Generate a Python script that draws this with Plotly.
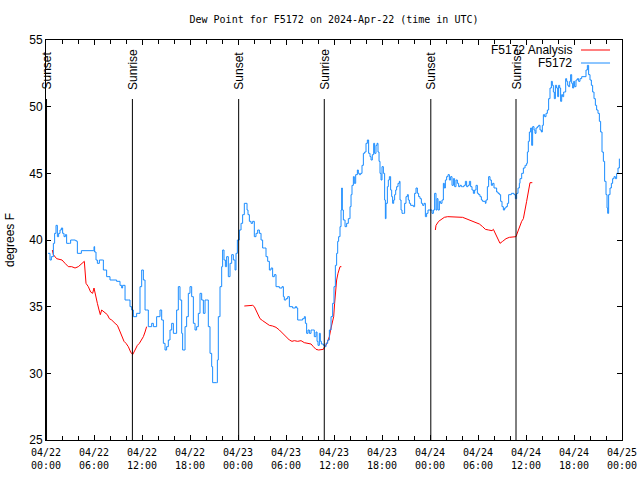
import pandas as pd
import plotly.graph_objects as go

BASE = pd.Timestamp("2024-04-22 00:00")

# ---- observed dew point (F5172), hours since 04/22 00:00 UTC, degrees F ----
obs_hours = [
    0.25, 0.5, 0.67, 0.92, 1.08, 1.25, 1.42, 1.58, 1.75, 1.92, 2.08, 2.25, 2.42, 2.58, 2.92, 3.08,
    3.67, 3.83, 3.92, 4.25, 4.42, 5.92, 6.0, 6.08, 6.25, 6.42, 6.67, 7.04, 7.17, 7.58, 8.0, 8.83,
    9.25, 9.46, 9.58, 9.88, 10.29, 10.5, 10.71, 10.92, 11.33, 11.75, 11.96, 12.17, 12.38, 12.58,
    12.79, 13.21, 13.42, 13.83, 14.25, 14.46, 14.67, 14.88, 15.08, 15.29, 15.5, 15.71, 15.92, 16.13,
    16.33, 16.54, 16.75, 16.96, 17.08, 17.38, 17.58, 17.79, 18.0, 18.21, 18.42, 18.63, 18.83, 19.04,
    19.25, 19.46, 19.67, 19.88, 20.08, 20.29, 20.5, 20.71, 20.83, 21.33, 21.42, 21.54, 21.75, 21.96,
    22.08, 22.25, 22.42, 22.58, 22.79, 23.0, 23.21, 23.42, 23.63, 23.75, 23.92,
    24.17, 24.38, 24.58, 24.79, 25.0, 25.13, 25.25, 25.42, 25.63, 25.83, 26.04, 26.25, 26.46, 26.67,
    26.88, 27.08, 27.29, 27.5, 27.71, 27.92, 28.13, 28.33, 28.54, 28.75, 29.17, 29.5, 29.67, 29.79,
    30.0, 30.21, 30.42, 30.83, 31.17, 31.33, 31.46, 31.88, 32.08, 32.29, 32.42, 32.58, 32.75, 32.92,
    33.13, 33.33, 33.54, 33.75, 33.88, 34.0, 34.17, 34.29, 34.42, 34.67, 34.83, 35.0, 35.21, 35.42,
    35.63, 35.83, 36.0, 36.17, 36.33, 36.46, 36.58, 36.75, 36.88, 36.96, 37.04, 37.17, 37.38, 37.58,
    37.79, 38.0, 38.13, 38.25, 38.42, 38.54, 38.71, 38.92, 39.04, 39.17, 39.33, 39.5, 39.67, 39.83,
    40.0, 40.17, 40.33, 40.5, 40.63, 40.79, 40.96, 41.08, 41.25, 41.38, 41.5, 41.63, 41.75, 41.88,
    42.0, 42.17, 42.33, 42.42, 42.5, 42.67, 42.79, 42.92, 43.08, 43.21, 43.33, 43.46, 43.58, 43.71,
    43.83, 44.0, 44.17, 44.25, 44.38, 44.5, 44.67, 44.83, 45.0, 45.17, 45.29, 45.42, 45.58, 45.92,
    46.08, 46.25, 46.42, 46.58, 46.75, 46.92, 47.08, 47.25, 47.42, 47.58, 47.75,
    48.0, 48.25, 48.42, 48.58, 48.75, 48.88, 49.0, 49.17, 49.33, 49.5, 49.67, 49.79, 49.92, 50.08,
    50.25, 50.42, 50.58, 50.75, 50.92, 51.08, 51.25, 51.42, 51.58, 51.75, 51.92, 52.08, 52.25, 52.42,
    52.58, 52.75, 52.92, 53.08, 53.25, 53.42, 53.58, 53.75, 53.92, 54.08, 54.25, 54.42, 54.58, 54.92,
    55.0, 55.17, 55.33, 55.5, 55.67, 55.83, 56.0, 56.33, 56.5, 56.67, 56.83, 57.0, 57.17, 57.33,
    57.5, 57.67, 57.83, 58.17, 58.5, 58.67, 58.83, 59.0, 59.17,
    59.25, 59.46, 59.67, 59.88, 60.08, 60.17, 60.29, 60.42, 60.58, 60.71, 60.83, 61.0, 61.13, 61.25,
    61.42, 61.58, 61.75, 61.92, 62.04, 62.17, 62.33, 62.5, 62.67, 62.83, 63.0, 63.17, 63.29, 63.42,
    63.54, 63.67, 63.83, 63.96, 64.08, 64.21, 64.33, 64.46, 64.58, 64.71, 64.83, 64.96, 65.08, 65.21,
    65.33, 65.46, 65.58, 65.71, 65.83, 65.96, 66.08, 66.25, 66.42, 66.58, 66.75, 66.96, 67.38, 67.5,
    67.67, 67.83, 68.0, 68.17, 68.33, 68.5, 68.67, 68.83, 69.0, 69.17, 69.33, 69.5, 69.67, 69.83,
    70.0, 70.13, 70.21, 70.33, 70.5, 70.67, 70.83, 71.0, 71.17, 71.33, 71.5, 71.67,
]
obs_dewpt = [
    39.0, 38.5, 38.75, 39.75, 40.5, 41.1, 40.25, 40.5, 40.75, 40.9, 40.5, 40.25, 40.4, 39.75, 39.75, 40.0,
    39.95, 39.9, 39.0, 39.0, 39.2, 39.2, 39.5, 39.1, 38.5, 38.25, 38.5, 38.5, 37.75, 37.25, 37.0, 36.9,
    36.6, 36.4, 36.6, 35.5, 35.5, 35.0, 34.75, 34.25, 34.5, 36.5, 37.75, 37.0, 34.75, 34.75,
    33.5, 33.75, 33.5, 34.25, 34.75, 34.0, 32.25, 31.75, 32.0, 32.5, 33.25, 33.75, 33.0, 33.0,
    34.75, 36.5, 35.5, 33.0, 31.75, 33.5, 34.25, 36.0, 36.5, 35.75, 33.75, 33.25, 33.5, 34.5,
    36.0, 35.5, 34.5, 35.5, 35.5, 33.5, 31.5, 30.5, 29.3, 29.3, 31.0, 34.25, 36.5, 38.0,
    39.25, 38.5, 38.0, 38.75, 37.25, 38.25, 38.9, 38.5, 37.75, 39.0, 40.0,
    40.75, 41.25, 41.9, 42.75, 42.75, 42.25, 41.9, 41.4, 41.25, 41.4, 40.25, 40.5, 40.75, 40.5,
    40.0, 39.4, 39.4, 38.75, 38.4, 37.75, 37.9, 37.25, 37.4, 36.5, 36.4, 36.5, 35.75, 35.5,
    35.6, 35.75, 35.0, 34.9, 35.0, 34.9, 34.0, 34.0, 34.1, 34.25, 33.75, 33.0, 33.25, 33.0,
    33.25, 33.25, 32.75, 33.1, 32.4, 32.1, 33.0, 32.4, 32.2, 32.1, 32.0, 32.25, 32.5, 33.25,
    34.25, 35.25, 36.5, 38.1, 39.0, 39.9, 40.25, 41.0, 42.25, 43.9, 42.25, 41.5, 41.0, 41.25,
    41.6, 42.5, 43.4, 44.1, 44.75, 44.25, 44.9, 45.25, 45.0, 44.9, 45.0, 45.6, 46.5, 46.6,
    47.25, 47.5, 46.5, 46.25, 46.0, 46.4, 47.25, 46.5, 47.1, 47.25, 46.6, 45.9, 45.0, 44.5,
    45.5, 45.0, 43.0, 41.6, 42.75, 44.0, 44.5, 44.75, 43.75, 43.25, 42.75, 43.0, 43.4, 43.75,
    44.0, 44.25, 44.4, 43.0, 42.25, 42.0, 42.0, 42.75, 43.25, 43.4, 43.0, 42.75, 42.6, 42.5,
    43.5, 43.9, 43.5, 43.25, 43.1, 42.75, 42.6, 42.75, 41.75, 42.0, 42.25,
    42.25, 42.0, 42.25, 43.5, 42.25, 43.1, 42.25, 42.9, 42.75, 43.0, 44.25, 43.9, 44.5, 44.75,
    44.9, 44.5, 44.75, 44.1, 44.6, 44.0, 44.5, 44.25, 44.0, 44.1, 44.0, 44.0, 44.1, 44.4,
    44.0, 44.1, 44.4, 44.0, 43.75, 43.5, 43.75, 44.1, 43.5, 43.4, 43.25, 43.0, 42.9, 42.75,
    43.0, 44.0, 44.75, 44.5, 44.1, 44.25, 43.9, 43.6, 43.5, 43.4, 42.9, 42.5, 42.25, 42.4,
    42.5, 42.75, 43.4, 43.5, 43.4, 43.1, 43.5, 43.9, 44.25,
    44.6, 45.0, 45.4, 45.6, 45.75, 46.6, 47.4, 48.1, 48.4, 47.1, 48.5, 48.25, 48.0, 48.4,
    48.5, 48.6, 48.25, 48.1, 48.6, 49.4, 49.25, 49.5, 49.75, 50.6, 51.4, 51.9, 51.6, 51.1,
    50.6, 51.6, 51.4, 50.75, 51.6, 51.4, 50.4, 50.9, 50.75, 51.1, 51.1, 52.1, 51.9, 51.6,
    51.5, 51.9, 52.4, 51.75, 51.4, 51.9, 51.5, 52.0, 52.1, 51.9, 52.1, 52.25, 52.25, 52.75,
    53.1, 52.4, 52.0, 51.6, 51.1, 50.6, 50.1, 49.75, 49.5, 48.9, 48.1, 46.6, 45.9, 44.4,
    43.4, 42.4, 42.0, 43.4, 43.9, 44.25, 44.6, 44.75, 44.6, 45.0, 45.4, 46.1,
]

# ---- analysis dew point (F5172 Analysis); None marks the gaps ----
ana_hours = [
    0.79, 0.92, 1.33, 1.75, 2.0, 2.38, 2.79, 3.21, 3.63, 4.04, 4.46, 4.79, 5.0, 5.29, 5.58, 5.83,
    6.0, 6.21, 6.42, 6.63, 6.79, 6.96, 7.38, 7.67, 7.92, 8.21, 8.63, 8.92, 9.17, 9.46, 9.75, 10.0,
    10.29, 10.58, 10.83, 11.13, 11.42, 11.67, 11.96, 12.17, 12.38, 12.58,
    None,
    24.79, 25.42, 25.83, 26.04, 26.25, 26.46, 26.75, 27.08, 27.5, 27.92, 28.33, 28.75, 29.17, 29.58,
    30.0, 30.42, 30.75, 31.04, 31.46, 31.88, 32.29, 32.71, 33.13, 33.42, 33.75, 34.08, 34.67, 34.83,
    35.0, 35.21, 35.42, 35.63, 35.83, 35.96, 36.08, 36.21, 36.33, 36.5, 36.63, 36.75, 36.92,
    None,
    48.67, 48.75, 49.08, 49.38, 49.79, 50.21, 50.83, 51.46, 52.08, 52.5, 52.92, 53.33, 53.75, 54.17,
    54.58, 54.92, 55.33, 55.75, 55.92, 56.25, 56.5, 56.75, 57.08, 57.5, 57.92, 58.33, 58.75, 58.96,
    59.17, 59.46, 59.67, 59.88, 60.08, 60.29, 60.42, 60.5, 60.79,
]
ana_dewpt = [
    39.25, 38.9, 38.6, 38.5, 38.5, 38.25, 38.0, 38.0, 37.9, 38.0, 38.25, 38.4, 36.75, 36.5, 36.1, 36.0,
    36.4, 35.75, 35.25, 34.75, 34.4, 34.75, 34.5, 34.4, 34.1, 34.0, 33.75, 33.6, 33.25, 32.75, 32.4, 32.25,
    32.0, 31.6, 31.4, 31.75, 32.1, 32.25, 32.5, 32.75, 33.1, 33.5,
    None,
    35.05, 35.1, 35.1, 35.0, 34.75, 34.5, 34.1, 33.95, 33.75, 33.6, 33.55, 33.45, 33.25, 33.0,
    32.75, 32.5, 32.4, 32.45, 32.4, 32.45, 32.3, 32.25, 32.2, 32.0, 31.8, 31.75, 31.8, 32.0,
    32.1, 32.4, 32.75, 33.4, 34.1, 34.25, 35.25, 36.4, 37.0, 37.5, 37.9, 38.0, 38.0,
    None,
    40.75, 41.1, 41.4, 41.55, 41.7, 41.75, 41.75, 41.75, 41.7, 41.6, 41.5, 41.4, 41.25, 41.2,
    41.0, 40.8, 40.75, 40.7, 40.8, 40.4, 40.0, 39.75, 39.9, 40.1, 40.2, 40.25, 40.25, 40.6,
    41.0, 41.4, 41.6, 42.4, 42.9, 43.6, 44.1, 44.3, 44.3,
]

# ---- sun events (UTC) ----
sunset_times = ["2024-04-22 00:04", "2024-04-23 00:05", "2024-04-24 00:06"]
sunrise_times = ["2024-04-22 10:48", "2024-04-23 10:47", "2024-04-24 10:45"]

# ---- axis ticks ----
x_tick_times = ["2024-04-22 00:00", "2024-04-22 06:00", "2024-04-22 12:00", "2024-04-22 18:00",
                "2024-04-23 00:00", "2024-04-23 06:00", "2024-04-23 12:00", "2024-04-23 18:00",
                "2024-04-24 00:00", "2024-04-24 06:00", "2024-04-24 12:00", "2024-04-24 18:00",
                "2024-04-25 00:00"]
x_tick_labels = ["04/22<br>00:00", "04/22<br>06:00", "04/22<br>12:00", "04/22<br>18:00",
                 "04/23<br>00:00", "04/23<br>06:00", "04/23<br>12:00", "04/23<br>18:00",
                 "04/24<br>00:00", "04/24<br>06:00", "04/24<br>12:00", "04/24<br>18:00",
                 "04/25<br>00:00"]
y_ticks = [25, 30, 35, 40, 45, 50, 55]


def to_time(hours):
    return [None if h is None else BASE + pd.Timedelta(hours=h) for h in hours]


BLUE = "#1a8cff"
RED = "#ff0000"
FONT = "Liberation Sans, Arial, sans-serif"
MONO = "DejaVu Sans Mono, monospace"

fig = go.Figure()
fig.add_trace(go.Scatter(x=to_time(ana_hours), y=ana_dewpt, mode="lines",
                         name="F5172 Analysis", line=dict(color=RED, width=1),
                         connectgaps=False, showlegend=False))
fig.add_trace(go.Scatter(x=to_time(obs_hours), y=obs_dewpt, mode="lines",
                         name="F5172", line=dict(color=BLUE, width=1),
                         line_shape="hv", showlegend=False))

LINE_TOP = 0.8525
LABEL_BOTTOM = 0.87
for label, times in (("Sunset", sunset_times), ("Sunrise", sunrise_times)):
    for t in times:
        fig.add_shape(type="line", xref="x", yref="paper", x0=t, x1=t, y0=0, y1=LINE_TOP,
                      line=dict(color="black", width=1))
        fig.add_annotation(x=t, xref="x", y=LABEL_BOTTOM, yref="paper", text=label,
                           textangle=-90, showarrow=False, xanchor="center", yanchor="bottom",
                           font=dict(family=FONT, size=12, color="black"))

# gnuplot-style key (text left of the line sample)
for i, (name, color) in enumerate((("F5172 Analysis", RED), ("F5172", BLUE))):
    yk = 0.975 - i * 0.0325
    fig.add_annotation(x=0.9167, xref="paper", y=yk, yref="paper", text=name, showarrow=False,
                       xanchor="right", yanchor="middle",
                       font=dict(family=FONT, size=12, color="black"))
    fig.add_shape(type="line", xref="paper", yref="paper", x0=0.9288, x1=0.9792, y0=yk, y1=yk,
                  line=dict(color=color, width=1))

# y-axis title placed like gnuplot's ylabel
fig.add_annotation(x=-0.0625, xref="paper", y=0.5, yref="paper", text="degrees F",
                   textangle=-90, showarrow=False, xanchor="center", yanchor="middle",
                   font=dict(family=FONT, size=12, color="black"))

fig.update_layout(
    width=640, height=480,
    margin=dict(l=46, r=18, t=40, b=40, autoexpand=False),
    paper_bgcolor="white", plot_bgcolor="white",
    font=dict(family=FONT, size=12, color="black"),
    title=dict(text="Dew Point for F5172 on 2024-Apr-22 (time in UTC)",
               x=0.5, xref="paper", xanchor="center",
               y=1 - 19 / 480, yref="container", yanchor="middle",
               font=dict(family=MONO, size=10, color="black")),
    showlegend=False,
)
fig.update_xaxes(
    type="date", range=["2024-04-22 00:00", "2024-04-25 00:00"], automargin=False,
    tickmode="array", tickvals=x_tick_times, ticktext=x_tick_labels,
    ticks="inside", ticklen=5, tickcolor="black", tickwidth=1, ticklabelstandoff=3,
    minor=dict(dtick=2 * 3600 * 1000, tick0="2024-04-22 00:00", ticks="inside",
               ticklen=4, tickcolor="black", tickwidth=1, showgrid=False),
    showline=True, linecolor="black", linewidth=1, mirror="allticks",
    showgrid=False, zeroline=False,
    tickfont=dict(family=MONO, size=10, color="black"),
)
fig.update_yaxes(
    range=[25, 55], automargin=False, tickmode="array", tickvals=y_ticks,
    ticktext=[str(v) for v in y_ticks],
    ticks="inside", ticklen=5, tickcolor="black", tickwidth=1,
    showline=True, linecolor="black", linewidth=1, mirror="allticks",
    showgrid=False, zeroline=False,
    tickfont=dict(family=FONT, size=12, color="black"),
)

# remove the browser's default 8px page margin so the 640x480 figure fills the window
fig.write_html("out.html", config={"displayModeBar": False},
               post_script="document.body.style.margin='0px';document.body.style.overflow='hidden';")
